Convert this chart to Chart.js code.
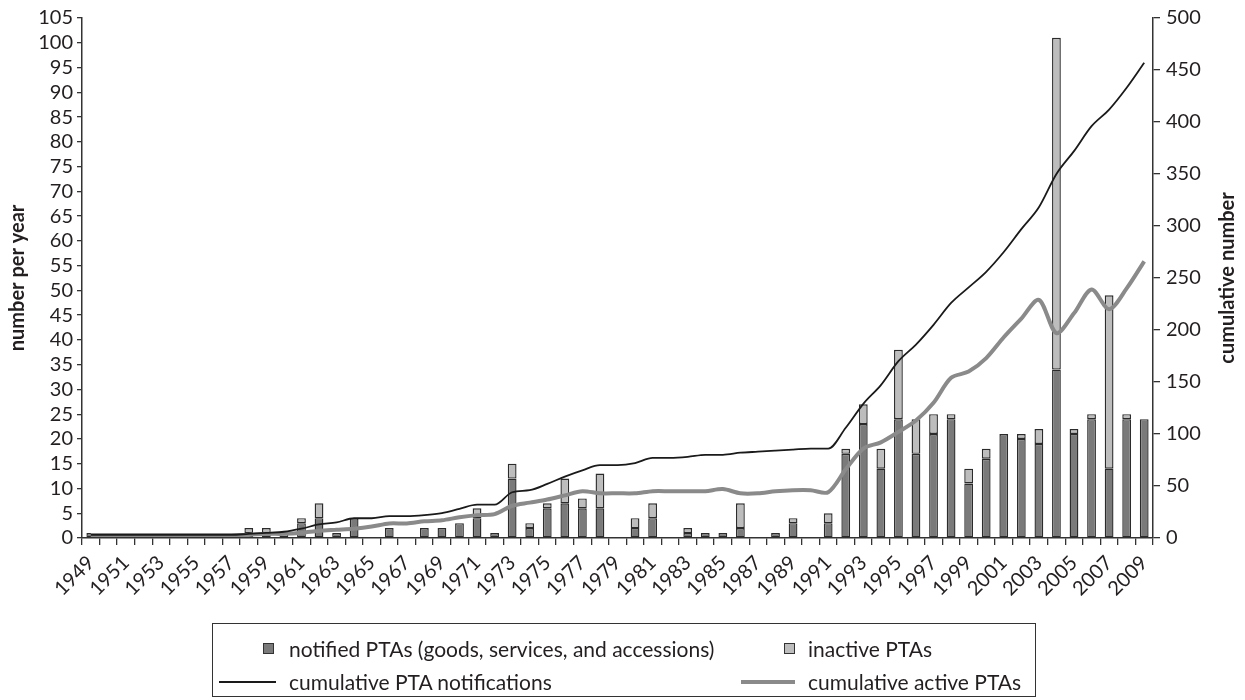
<!DOCTYPE html>
<html>
<head>
<meta charset="utf-8">
<script src="https://cdn.jsdelivr.net/npm/chart.js@4.4.1/dist/chart.umd.min.js"></script>
<style>
    html, body { margin: 0; padding: 0; background: #fff; }
    #wrap { position: relative; width: 1245px; height: 700px; }
    #legend {
        position: absolute; left: 212px; top: 623px; width: 824px; height: 74px;
        border: 1.5px solid #333; box-sizing: border-box;
        font-family: Lato, "Noto Sans", sans-serif; font-size: 21px; color: #231f20;
    }
    .item { position: absolute; white-space: nowrap; line-height: 24px; }
    .box { position: absolute; width: 9px; height: 9px; border: 1px solid #333; }
    .line { position: absolute; }
</style>
</head>
<body>
<div id="wrap">
    <canvas id="pta-chart" width="1245" height="700"></canvas>
    <div id="legend"></div>
</div>
<script>
"use strict";

// categories
const years = [
    "1949", "1950", "1951", "1952", "1953", "1954", "1955", "1956", "1957", "1958",
    "1959", "1960", "1961", "1962", "1963", "1964", "1965", "1966", "1967", "1968",
    "1969", "1970", "1971", "1972", "1973", "1974", "1975", "1976", "1977", "1978",
    "1979", "1980", "1981", "1982", "1983", "1984", "1985", "1986", "1987", "1988",
    "1989", "1990", "1991", "1992", "1993", "1994", "1995", "1996", "1997", "1998",
    "1999", "2000", "2001", "2002", "2003", "2004", "2005", "2006", "2007", "2008",
    "2009"
];

// notified PTAs per year (dark part of the bar)
const notified = [
    1, 0, 1, 0, 0, 0, 1, 0, 0, 1,
    1, 0, 3, 4, 1, 4, 0, 2, 0, 2,
    2, 3, 4, 1, 12, 2, 6, 7, 6, 6,
    0, 2, 4, 0, 1, 1, 1, 2, 0, 1,
    3, 0, 3, 17, 23, 14, 24, 17, 21, 24,
    11, 16, 21, 20, 19, 34, 21, 24, 14, 24,
    24
];

// inactive PTAs per year (light part on top)
const inactive = [
    0, 0, 0, 0, 0, 0, 0, 0, 0, 1,
    1, 1, 1, 3, 0, 0, 0, 0, 0, 0,
    0, 0, 2, 0, 3, 1, 1, 5, 2, 7,
    0, 2, 3, 0, 1, 0, 0, 5, 0, 0,
    1, 0, 2, 1, 4, 4, 14, 7, 4, 1,
    3, 2, 0, 1, 3, 67, 1, 1, 35, 1,
    0
];

// cumulative PTA notifications (right axis)
const cumNotified = [
    3, 3, 3, 3, 3, 3, 3, 3, 3, 4,
    5, 6, 9, 13, 15, 19, 19, 21, 21, 22,
    24, 28, 32, 32, 44, 46, 52, 59, 65, 70,
    70, 72, 77, 77, 78, 80, 80, 82, 83, 84,
    85, 86, 86, 106, 129, 147, 170, 186, 205, 226,
    241, 256, 275, 297, 318, 350, 372, 396, 412, 433,
    457
];

// cumulative active PTAs (right axis)
const cumActive = [
    3, 3, 3, 3, 3, 3, 3, 3, 3, 3,
    4, 4, 5, 7, 8, 9, 11, 14, 14, 16,
    17, 20, 22, 23, 31, 34, 37, 41, 45, 43,
    43, 43, 45, 45, 45, 45, 47, 43, 43, 45,
    46, 46, 44, 66, 86, 92, 102, 113, 130, 154,
    160, 173, 193, 211, 229, 197, 216, 239, 220, 240,
    266
];

// tick labels
const leftTicks = { min: 0, max: 105, step: 5 };
const rightTicks = { min: 0, max: 500, step: 50 };

const textColor = "#231f20";
const axisColor = "#333";
const tickFont = { family: "Lato", size: 20 };

// right axis title reads bottom-to-top, Chart.js would turn it the other way
const rightTitle = {
    id: "rightTitle",
    afterDraw(chart) {
        const s = chart.scales.y2;
        const ctx = chart.ctx;
        ctx.save();
        ctx.translate(s.right - 17, (s.top + s.bottom) / 2);
        ctx.rotate(-Math.PI / 2);
        ctx.font = "bold 20px Lato";
        ctx.fillStyle = textColor;
        ctx.textAlign = "center";
        ctx.textBaseline = "middle";
        ctx.fillText("cumulative number", 0, 0);
        ctx.restore();
    }
};

const ctx = document.getElementById("pta-chart").getContext("2d");
const chart = new Chart(ctx, {
    data: {
        labels: years,
        datasets: [
            {
                type: "line",
                label: "cumulative PTA notifications",
                data: cumNotified,
                yAxisID: "y2",
                borderColor: "#1a1a1a",
                borderWidth: 1.8,
                pointRadius: 0,
                cubicInterpolationMode: "monotone",
                order: 0
            },
            {
                type: "line",
                label: "cumulative active PTAs",
                data: cumActive,
                yAxisID: "y2",
                borderColor: "#8a8a8a",
                borderWidth: 4,
                pointRadius: 0,
                tension: 0.3,
                order: 0
            },
            {
                type: "bar",
                label: "notified PTAs (goods, services, and accessions)",
                data: notified,
                yAxisID: "y",
                backgroundColor: "#7a7a7a",
                borderColor: "#2b2b2b",
                borderWidth: 1.4,
                borderSkipped: false,
                categoryPercentage: 1,
                barPercentage: 0.5,
                order: 1
            },
            {
                type: "bar",
                label: "inactive PTAs",
                data: inactive,
                yAxisID: "y",
                backgroundColor: "#bdbdbd",
                borderColor: "#2b2b2b",
                borderWidth: 1.4,
                borderSkipped: false,
                categoryPercentage: 1,
                barPercentage: 0.5,
                order: 2
            }
        ]
    },
    options: {
        responsive: false,
        animation: false,
        devicePixelRatio: 1,
        layout: { padding: { top: 0, right: 0, bottom: 0, left: 0 } },
        plugins: {
            legend: { display: false },
            tooltip: { enabled: false }
        },
        scales: {
            x: {
                stacked: true,
                offset: true,
                grid: {
                    offset: true,
                    drawOnChartArea: false,
                    tickLength: 7,
                    color: axisColor,
                    lineWidth: 1.3
                },
                border: { color: axisColor, width: 1.5 },
                ticks: {
                    autoSkip: false,
                    minRotation: 45,
                    maxRotation: 45,
                    padding: 6,
                    color: textColor,
                    font: tickFont,
                    callback: function (value, index) {
                        return index % 2 === 0 ? years[index] : "";
                    }
                },
                afterFit: function (scale) { scale.height = 162; }
            },
            y: {
                position: "left",
                stacked: true,
                min: leftTicks.min,
                max: leftTicks.max,
                grid: {
                    drawOnChartArea: false,
                    tickLength: 5,
                    color: axisColor,
                    lineWidth: 1.3
                },
                border: { color: axisColor, width: 1.5 },
                ticks: {
                    autoSkip: false,
                    stepSize: leftTicks.step,
                    padding: 4,
                    color: textColor,
                    font: tickFont
                },
                title: {
                    display: true,
                    text: "number per year",
                    color: textColor,
                    font: { family: "Lato", size: 20, weight: "bold" },
                    padding: { top: 6, bottom: 0 }
                },
                afterFit: function (scale) { scale.width = 82; }
            },
            y2: {
                position: "right",
                min: rightTicks.min,
                max: rightTicks.max,
                grid: {
                    drawOnChartArea: false,
                    tickLength: 7,
                    color: axisColor,
                    lineWidth: 1.3
                },
                border: { color: axisColor, width: 1.5 },
                ticks: {
                    autoSkip: false,
                    stepSize: rightTicks.step,
                    padding: 6,
                    color: textColor,
                    font: tickFont
                },
                afterFit: function (scale) { scale.width = 92; }
            }
        }
    },
    plugins: [rightTitle]
});

// legend below the chart, two columns like the original
const legendSlots = [
    { left: 50, top: 13, text: 76 },
    { left: 571, top: 13, text: 595 },
    { left: 6, top: 46, text: 76 },
    { left: 528, top: 46, text: 595 }
];
const legendOrder = [2, 3, 0, 1];
const legend = document.getElementById("legend");
legendOrder.forEach(function (dsIndex, i) {
    const ds = chart.data.datasets[dsIndex];
    const slot = legendSlots[i];
    let mark;
    if (ds.type === "bar") {
        mark = document.createElement("span");
        mark.className = "box";
        mark.style.left = slot.left + "px";
        mark.style.top = (slot.top + 6) + "px";
        mark.style.background = ds.backgroundColor;
    } else {
        mark = document.createElement("span");
        mark.className = "line";
        mark.style.left = slot.left + "px";
        mark.style.width = (slot.text - slot.left - 13) + "px";
        mark.style.top = (slot.top + 12 - ds.borderWidth / 2) + "px";
        mark.style.height = ds.borderWidth + "px";
        mark.style.background = ds.borderColor;
    }
    legend.appendChild(mark);
    const label = document.createElement("span");
    label.className = "item";
    label.style.left = slot.text + "px";
    label.style.top = slot.top + "px";
    label.textContent = ds.label;
    legend.appendChild(label);
});
</script>
</body>
</html>
